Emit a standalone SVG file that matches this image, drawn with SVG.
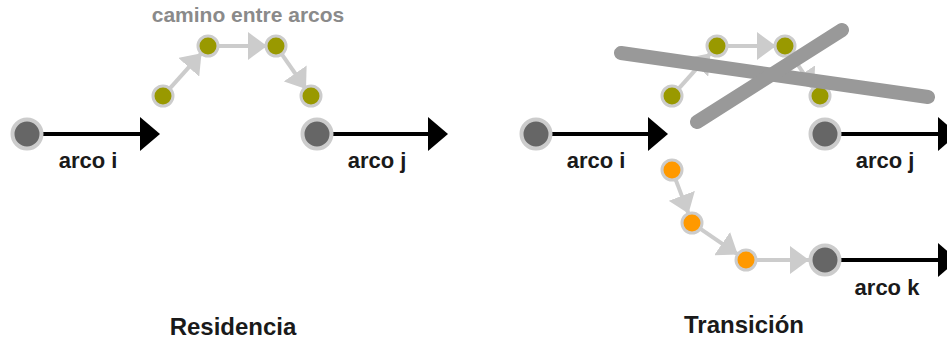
<svg xmlns="http://www.w3.org/2000/svg" width="947" height="341" viewBox="0 0 947 341">
  <style>
    .big { fill: #666666; stroke: #cccccc; stroke-width: 4; }
    .olive { fill: #999900; stroke: #cccccc; stroke-width: 3; }
    .orange { fill: #ff9900; stroke: #cccccc; stroke-width: 3; }
    .arc { stroke: #000000; stroke-width: 4; fill: none; }
    .head { fill: #000000; }
    .step { stroke: #cccccc; stroke-width: 4; fill: none; marker-end: url(#stepHead); }
    .cross { stroke: #999999; stroke-width: 14; stroke-linecap: round; fill: none; }
    .lbl { font-family: "Liberation Sans", Arial, sans-serif; font-weight: bold; font-size: 22px; fill: #1a1a1a; text-anchor: middle; }
    .title { font-family: "Liberation Sans", Arial, sans-serif; font-weight: bold; font-size: 24px; fill: #1a1a1a; text-anchor: middle; }
    .note { font-family: "Liberation Sans", Arial, sans-serif; font-weight: bold; font-size: 21px; fill: #8a8a8a; text-anchor: middle; }
  </style>
  <defs>
    <marker id="stepHead" markerUnits="userSpaceOnUse" markerWidth="19" markerHeight="28" refX="19" refY="14" orient="auto">
      <path d="M0,0 L19,14 L0,28 z" fill="#cccccc"/>
    </marker>
  </defs>
  <rect width="947" height="341" fill="#ffffff"/>

  <!-- connectors -->
  <g id="connectors">
    <!-- residencia: arcs -->
    <line class="arc" x1="43" y1="134" x2="142" y2="134"/>
    <polygon class="head" points="140,117 160,134 140,151"/>
    <line class="arc" x1="333" y1="134" x2="430" y2="134"/>
    <polygon class="head" points="428,117 448,134 428,151"/>
    <!-- residencia: path between arcs -->
    <line class="step" x1="169" y1="89.3" x2="201.5" y2="53.2"/>
    <line class="step" x1="217" y1="46" x2="267" y2="46"/>
    <line class="step" x1="281.2" y1="53.4" x2="306" y2="89"/>

    <!-- transicion: arcs -->
    <line class="arc" x1="552" y1="134" x2="650" y2="134"/>
    <polygon class="head" points="648,117 668,134 648,151"/>
    <line class="arc" x1="841" y1="134" x2="940" y2="134"/>
    <polygon class="head" points="938,117 958,134 938,151"/>
    <line class="arc" x1="841" y1="260" x2="940" y2="260"/>
    <polygon class="head" points="938,243 958,260 938,277"/>
    <!-- transicion: discarded path -->
    <line class="step" x1="678" y1="89.3" x2="710.5" y2="53.2"/>
    <line class="step" x1="726" y1="46" x2="776" y2="46"/>
    <line class="step" x1="790.2" y1="53.4" x2="814" y2="89"/>
    <!-- transicion: taken path -->
    <line class="step" x1="675.2" y1="178.4" x2="688.5" y2="213.6"/>
    <line class="step" x1="699.4" y1="228.1" x2="737.8" y2="254.4"/>
    <line class="step" x1="755" y1="260" x2="809" y2="260"/>
  </g>

  <!-- residencia nodes -->
  <g id="res-arc-i"><circle class="big" cx="27" cy="134" r="14.5"/><text class="lbl" x="88" y="168">arco i</text></g>
  <g id="res-arc-j"><circle class="big" cx="317" cy="134" r="14.5"/><text class="lbl" x="377" y="168">arco j</text></g>
  <g id="res-p1"><circle class="olive" cx="163" cy="96" r="10"/></g>
  <g id="res-p2"><circle class="olive" cx="208" cy="46" r="10"/></g>
  <g id="res-p3"><circle class="olive" cx="276" cy="46" r="10"/></g>
  <g id="res-p4"><circle class="olive" cx="311" cy="96" r="10"/></g>
  <g id="res-note"><text class="note" x="248" y="22">camino entre arcos</text></g>
  <g id="res-title"><text class="title" x="233" y="335">Residencia</text></g>

  <!-- transicion nodes -->
  <g id="tr-arc-i"><circle class="big" cx="536" cy="134" r="14.5"/><text class="lbl" x="596" y="168">arco i</text></g>
  <g id="tr-arc-j"><circle class="big" cx="825" cy="134" r="14.5"/><text class="lbl" x="885" y="168">arco j</text></g>
  <g id="tr-arc-k"><circle class="big" cx="825" cy="260" r="14.5"/><text class="lbl" x="887" y="295">arco k</text></g>
  <g id="tr-p1"><circle class="olive" cx="672" cy="96" r="10"/></g>
  <g id="tr-p2"><circle class="olive" cx="717" cy="46" r="10"/></g>
  <g id="tr-p3"><circle class="olive" cx="785" cy="46" r="10"/></g>
  <g id="tr-p4"><circle class="olive" cx="820" cy="96" r="10"/></g>
  <g id="tr-q1"><circle class="orange" cx="672" cy="170" r="10"/></g>
  <g id="tr-q2"><circle class="orange" cx="692" cy="223" r="10"/></g>
  <g id="tr-q3"><circle class="orange" cx="746" cy="260" r="10"/></g>
  <g id="tr-title"><text class="title" x="744" y="333">Transición</text></g>

  <!-- strike-out over the discarded path -->
  <g id="tr-cross">
    <line class="cross" x1="621" y1="53" x2="928" y2="97"/>
    <line class="cross" x1="697" y1="122" x2="842" y2="30"/>
  </g>
</svg>
